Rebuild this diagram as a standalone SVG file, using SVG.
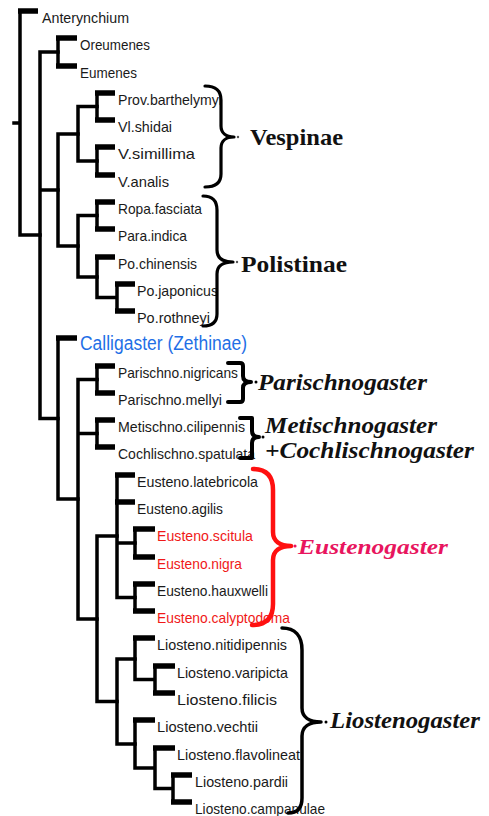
<svg xmlns="http://www.w3.org/2000/svg" width="489" height="816" viewBox="0 0 489 816">
  <style>
    .ln { fill: none; stroke: #000; stroke-width: 3.5; stroke-linecap: square; stroke-linejoin: miter; }
    .bar { fill: none; stroke: #000; stroke-width: 5.5; stroke-linecap: butt; }
    .leaf { font-family: "Liberation Sans", Arial, sans-serif; font-size: 15px; fill: #1a1a1a; }
    .red { fill: #f01818; }
    .blue { fill: #1f6fe6; font-size: 20px; }
    .brace { fill: none; stroke: #000; stroke-width: 3.2; stroke-linecap: round; stroke-linejoin: round; }
    .clade { font-family: "Liberation Serif", "Times New Roman", serif; font-weight: bold; font-size: 24px; fill: #111; }
    .it { font-style: italic; font-size: 23px; }
    .tipdot { fill: #555; }
  </style>

  <!-- tree lines -->
  <g id="connectors">
    <!-- root -->
    <path class="ln" d="M14,123 H20 M20,11 V235 M20,235 H40"/>
    <path class="bar" d="M18,11 H38"/>
    <!-- node A: Eumeninae + Vespinae/Polistinae + lower clade -->
    <path class="ln" d="M40,52 V418.5 M40,52 H58 M40,190 H58 M40,418.5 H58"/>
    <!-- Oreumenes / Eumenes -->
    <path class="ln" d="M58,38 V66"/>
    <path class="bar" d="M56,38 H77 M56,66 H77"/>
    <!-- Vespinae + Polistinae -->
    <path class="ln" d="M58,134 V246 M58,134 H78 M58,246 H78"/>
    <path class="ln" d="M78,106.5 V161 M78,106.5 H97 M78,161 H97"/>
    <path class="ln" d="M97,93 V120 M97,147 V175"/>
    <path class="bar" d="M95,93 H115 M95,120 H115 M95,147 H115 M95,175 H115"/>
    <path class="ln" d="M78,215.5 V277 M78,215.5 H97 M78,277 H97"/>
    <path class="ln" d="M97,202 V229 M97,257 V297.5 M97,297.5 H117 M117,284 V311"/>
    <path class="bar" d="M95,202 H115 M95,229 H115 M95,257 H115 M115,284 H135 M115,311 H135"/>
    <!-- Calligaster + Stenogastrinae -->
    <path class="ln" d="M58,338 V499 M58,499 H78"/>
    <path class="bar" d="M56,338 H77"/>
    <path class="ln" d="M78,379.5 V619 M78,379.5 H97 M78,433.5 H97 M78,619 H97"/>
    <path class="ln" d="M97,366 V393 M97,420 V447"/>
    <path class="bar" d="M95,366 H115 M95,393 H115 M95,420 H115 M95,447 H115"/>
    <!-- Eustenogaster + Liostenogaster -->
    <path class="ln" d="M97,536 V701.5 M97,536 H117 M97,701.5 H117"/>
    <path class="ln" d="M117,475 V597.5 M117,543 H135 M117,597.5 H135"/>
    <path class="bar" d="M115,475 H135 M115,502 H135"/>
    <path class="ln" d="M135,529 V557 M135,584 V611"/>
    <path class="bar" d="M133,529 H155 M133,557 H155 M133,584 H155 M133,611 H155"/>
    <path class="ln" d="M117,659 V744 M117,659 H135 M117,744 H135"/>
    <path class="ln" d="M135,638 V679.5 M135,679.5 H155 M155,666 V693"/>
    <path class="bar" d="M133,638 H155 M153,666 H175 M153,693 H175"/>
    <path class="ln" d="M135,720 V768 M135,768 H155 M155,748 V788.5 M155,788.5 H173 M173,775 V802"/>
    <path class="bar" d="M133,720 H155 M153,748 H175 M171,775 H192 M171,802 H192"/>
  </g>

  <!-- taxa -->
  <g id="Anterynchium"><text class="leaf" x="42" y="23" textLength="87" lengthAdjust="spacingAndGlyphs">Anterynchium</text></g>
  <g id="Oreumenes"><text class="leaf" x="80" y="50" textLength="70" lengthAdjust="spacingAndGlyphs">Oreumenes</text></g>
  <g id="Eumenes"><text class="leaf" x="80" y="78" textLength="57" lengthAdjust="spacingAndGlyphs">Eumenes</text></g>
  <g id="Prov_barthelymyi"><text class="leaf" x="118" y="105" textLength="104" lengthAdjust="spacingAndGlyphs">Prov.barthelymyi</text></g>
  <g id="Vl_shidai"><text class="leaf" x="118" y="132" textLength="54" lengthAdjust="spacingAndGlyphs">Vl.shidai</text></g>
  <g id="V_simillima"><text class="leaf" x="118" y="159" textLength="77" lengthAdjust="spacingAndGlyphs">V.simillima</text></g>
  <g id="V_analis"><text class="leaf" x="118" y="187" textLength="51" lengthAdjust="spacingAndGlyphs">V.analis</text></g>
  <g id="Ropa_fasciata"><text class="leaf" x="118" y="214" textLength="84" lengthAdjust="spacingAndGlyphs">Ropa.fasciata</text></g>
  <g id="Para_indica"><text class="leaf" x="118" y="241" textLength="69" lengthAdjust="spacingAndGlyphs">Para.indica</text></g>
  <g id="Po_chinensis"><text class="leaf" x="118" y="269" textLength="79" lengthAdjust="spacingAndGlyphs">Po.chinensis</text></g>
  <g id="Po_japonicus"><text class="leaf" x="137" y="296" textLength="81" lengthAdjust="spacingAndGlyphs">Po.japonicus</text></g>
  <g id="Po_rothneyi"><text class="leaf" x="137" y="323" textLength="73" lengthAdjust="spacingAndGlyphs">Po.rothneyi</text></g>
  <g id="Calligaster"><text class="leaf blue" x="80" y="350" textLength="167" lengthAdjust="spacingAndGlyphs">Calligaster (Zethinae)</text></g>
  <g id="Parischno_nigricans"><text class="leaf" x="118" y="378" textLength="120" lengthAdjust="spacingAndGlyphs">Parischno.nigricans</text></g>
  <g id="Parischno_mellyi"><text class="leaf" x="118" y="405" textLength="104" lengthAdjust="spacingAndGlyphs">Parischno.mellyi</text></g>
  <g id="Metischno_cilipennis"><text class="leaf" x="118" y="432" textLength="127" lengthAdjust="spacingAndGlyphs">Metischno.cilipennis</text></g>
  <g id="Cochlischno_spatulata"><text class="leaf" x="118" y="459" textLength="137" lengthAdjust="spacingAndGlyphs">Cochlischno.spatulata</text></g>
  <g id="Eusteno_latebricola"><text class="leaf" x="137" y="487" textLength="121" lengthAdjust="spacingAndGlyphs">Eusteno.latebricola</text></g>
  <g id="Eusteno_agilis"><text class="leaf" x="137" y="514" textLength="86" lengthAdjust="spacingAndGlyphs">Eusteno.agilis</text></g>
  <g id="Eusteno_scitula"><text class="leaf red" x="157" y="541" textLength="96" lengthAdjust="spacingAndGlyphs">Eusteno.scitula</text></g>
  <g id="Eusteno_nigra"><text class="leaf red" x="157" y="569" textLength="85" lengthAdjust="spacingAndGlyphs">Eusteno.nigra</text></g>
  <g id="Eusteno_hauxwelli"><text class="leaf" x="157" y="596" textLength="111" lengthAdjust="spacingAndGlyphs">Eusteno.hauxwelli</text></g>
  <g id="Eusteno_calyptodoma"><text class="leaf red" x="157" y="623" textLength="133" lengthAdjust="spacingAndGlyphs">Eusteno.calyptodoma</text></g>
  <g id="Liosteno_nitidipennis"><text class="leaf" x="157" y="650" textLength="130" lengthAdjust="spacingAndGlyphs">Liosteno.nitidipennis</text></g>
  <g id="Liosteno_varipicta"><text class="leaf" x="177" y="678" textLength="111" lengthAdjust="spacingAndGlyphs">Liosteno.varipicta</text></g>
  <g id="Liosteno_filicis"><text class="leaf" x="177" y="705" textLength="100" lengthAdjust="spacingAndGlyphs">Liosteno.filicis</text></g>
  <g id="Liosteno_vechtii"><text class="leaf" x="157" y="732" textLength="101" lengthAdjust="spacingAndGlyphs">Liosteno.vechtii</text></g>
  <g id="Liosteno_flavolineat"><text class="leaf" x="177" y="760" textLength="123" lengthAdjust="spacingAndGlyphs">Liosteno.flavolineat</text></g>
  <g id="Liosteno_pardii"><text class="leaf" x="195" y="787" textLength="93" lengthAdjust="spacingAndGlyphs">Liosteno.pardii</text></g>
  <g id="Liosteno_campanulae"><text class="leaf" x="195" y="814" textLength="130" lengthAdjust="spacingAndGlyphs">Liosteno.campanulae</text></g>

  <!-- clade brackets and names -->
  <g id="Vespinae">
    <path class="brace" d="M205,86 C215,86 221,90 221,100 L221,126 C221,133 226,137 234,137 C226,137 221,141 221,148 L221,174 C221,183 215,187 205,187"/>
    <circle class="tipdot" cx="238" cy="137" r="1.2"/>
    <text class="clade" x="250" y="145" textLength="93" lengthAdjust="spacingAndGlyphs">Vespinae</text>
  </g>
  <g id="Polistinae">
    <path class="brace" d="M203,196 C212,196 217,200 217,210 L217,250 C217,258 223,262 233,262 C223,262 217,266 217,274 L217,314 C217,322 212,326 203,326"/>
    <circle class="tipdot" cx="237" cy="262" r="1.2"/>
    <text class="clade" x="241" y="272" textLength="106" lengthAdjust="spacingAndGlyphs">Polistinae</text>
  </g>
  <g id="Parischnogaster">
    <path class="brace" style="stroke-width:4" d="M228,363 L240,363 Q243,363 243,366 L243,376 Q243,382 251,382 Q243,382 243,388 L243,399 Q243,402 240,402 L228,402"/>
    <circle cx="256" cy="382" r="1.5"/>
    <text class="clade it" x="258" y="390" textLength="169" lengthAdjust="spacingAndGlyphs">Parischnogaster</text>
  </g>
  <g id="Metischnogaster">
    <path class="brace" style="stroke-width:4" d="M240,418 L252,418 L252,431 Q252,437 259,437 Q252,437 252,443 L252,458 L240,458"/>
    <circle cx="263" cy="437" r="1.5"/>
    <text class="clade it" x="265" y="433" textLength="172" lengthAdjust="spacingAndGlyphs">Metischnogaster</text>
    <text class="clade it" x="265" y="458" textLength="209" lengthAdjust="spacingAndGlyphs">+Cochlischnogaster</text>
  </g>
  <g id="Eustenogaster">
    <path class="brace" style="stroke:#ff1010;stroke-width:4.5" d="M253,469 C266,469 273,476 273,490 L273,532 C273,541 280,546 291,546 C280,546 273,551 273,560 L273,604 C273,618 266,625 252,625"/>
    <circle cx="295" cy="546" r="1.6" fill="#e8155e"/>
    <text class="clade it" style="fill:#e8155e;font-size:22px" x="298" y="554" textLength="150" lengthAdjust="spacingAndGlyphs">Eustenogaster</text>
  </g>
  <g id="Liostenogaster">
    <path class="brace" style="stroke-width:3.5" d="M282,628 C295,628 302,636 302,650 L302,708 C302,717 309,722 321,722 C309,722 302,727 302,736 L302,798 C302,808 297,813 288,813"/>
    <circle cx="326" cy="722" r="1.5"/>
    <text class="clade it" x="330" y="728" textLength="150" lengthAdjust="spacingAndGlyphs">Liostenogaster</text>
  </g>
</svg>
